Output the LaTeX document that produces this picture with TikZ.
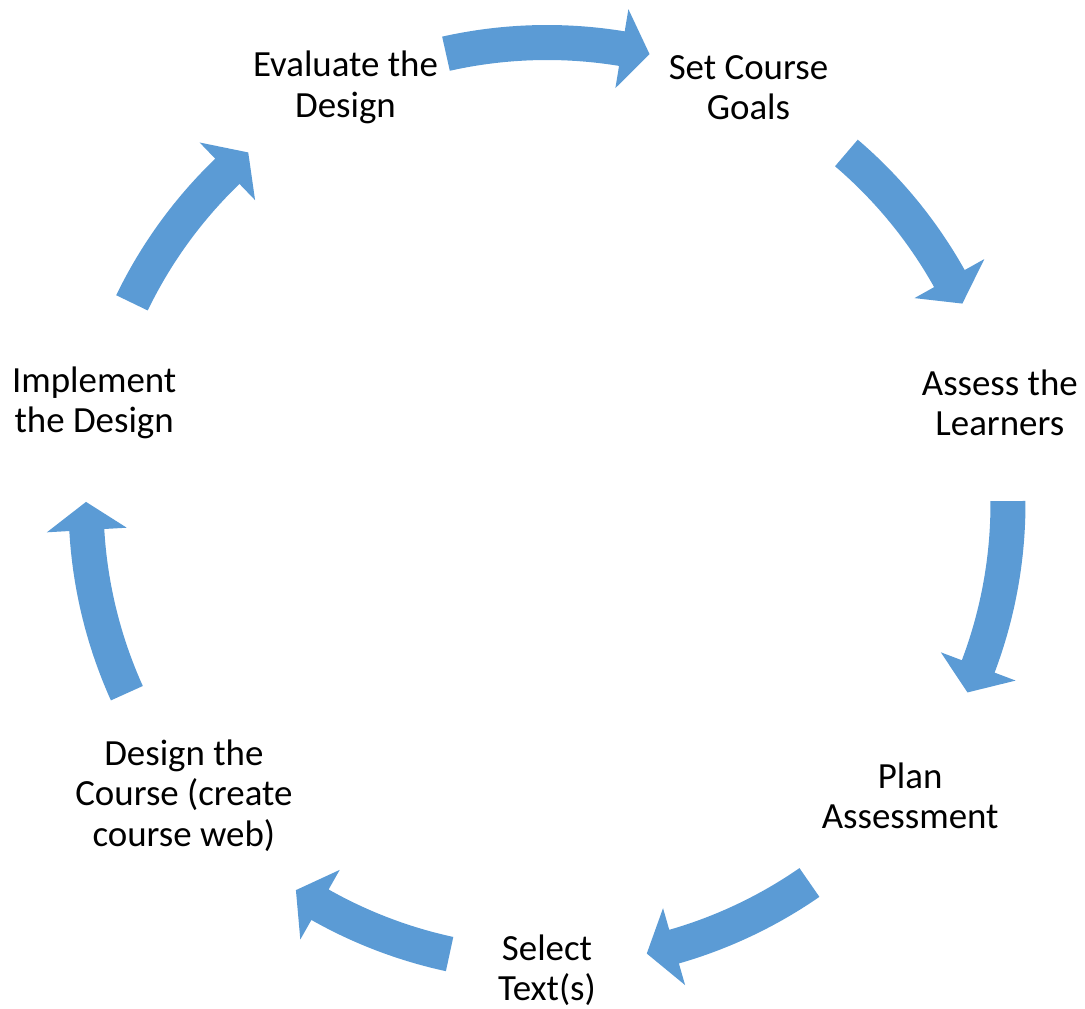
\documentclass[tikz,border=0pt]{standalone}
\usepackage{fontspec}
\setmainfont{Carlito}
\usetikzlibrary{arrows}
\definecolor{arcblue}{HTML}{5B9BD5}

\begin{document}
\begin{tikzpicture}[
    stage/.style={align=center, text=black, yshift=-0.05cm, font=\fontsize{21}{23}\selectfont},
    blockarc/.style={fill=arcblue}
  ]
  \useasboundingbox (0,0) rectangle (21.7,20.18);
  \begin{scope}[shift={(10.94,10.11)}]
    % the seven stages, clockwise from the top
    \node[stage] (goals) at (64.29:9.29) {Set Course\\Goals};
    \node[stage] (learners) at (12.86:9.29) {Assess the\\Learners};
    \node[stage] (assess) at (-38.57:9.29) {Plan\\Assessment};
    \node[stage] (texts) at (-90:9.29) {Select\\Text(s)};
    \node[stage] (design) at (-141.43:9.29) {Design the\\Course (create\\course web)};
    \node[stage] (implement) at (167.14:9.29) {Implement\\the Design};
    \node[stage] (evaluate) at (115.71:9.29) {Evaluate the\\Design};
    % block arcs: tail angle / tip angle, head base 3.5 deg behind the tip
    \foreach \a/\b [evaluate=\b as \h using \b+3.5] in
        {102.66/77.15, 49.5/25.7, 0.3/-24.2, -55.3/-77.5,
         -102.2/-123, -155.7/-180.2, 154.2/130.4}
      \fill[blockarc] (\a:9.57) arc[start angle=\a, end angle=\h, radius=9.57]
        -- (\h:10.02) -- (\b:9.22) -- (\h:8.42) -- (\h:8.87)
        arc[start angle=\h, end angle=\a, radius=8.87] -- cycle;
  \end{scope}
\end{tikzpicture}
\end{document}
